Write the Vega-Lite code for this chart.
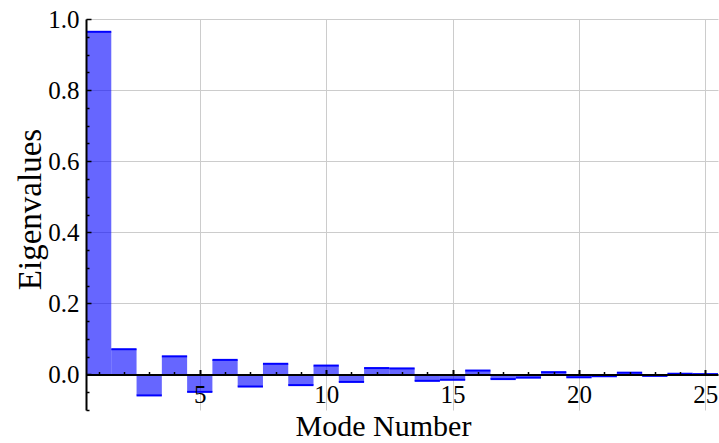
{
  "$schema": "https://vega.github.io/schema/vega-lite/v6.json",
  "width": 632,
  "height": 391,
  "autosize": "none",
  "padding": {"left": 86, "top": 19, "right": 1, "bottom": 33},
  "background": "white",
  "config": {"view": {"stroke": null}, "font": "Liberation Serif"},
  "data": {"values": [
    {"mode": 1, "eigenvalue": 0.964},
    {"mode": 2, "eigenvalue": 0.071},
    {"mode": 3, "eigenvalue": -0.059},
    {"mode": 4, "eigenvalue": 0.051},
    {"mode": 5, "eigenvalue": -0.049},
    {"mode": 6, "eigenvalue": 0.041},
    {"mode": 7, "eigenvalue": -0.034},
    {"mode": 8, "eigenvalue": 0.030},
    {"mode": 9, "eigenvalue": -0.030},
    {"mode": 10, "eigenvalue": 0.025},
    {"mode": 11, "eigenvalue": -0.021},
    {"mode": 12, "eigenvalue": 0.018},
    {"mode": 13, "eigenvalue": 0.017},
    {"mode": 14, "eigenvalue": -0.018},
    {"mode": 15, "eigenvalue": -0.015},
    {"mode": 16, "eigenvalue": 0.011},
    {"mode": 17, "eigenvalue": -0.013},
    {"mode": 18, "eigenvalue": -0.009},
    {"mode": 19, "eigenvalue": 0.0065},
    {"mode": 20, "eigenvalue": -0.008},
    {"mode": 21, "eigenvalue": -0.005},
    {"mode": 22, "eigenvalue": 0.005},
    {"mode": 23, "eigenvalue": -0.004},
    {"mode": 24, "eigenvalue": 0.002},
    {"mode": 25, "eigenvalue": 0.001}
  ]},
  "transform": [
    {"bin": {"step": 1, "anchor": 0.5, "extent": [0.5, 25.5]}, "field": "mode", "as": ["lo", "hi"]}
  ],
  "resolve": {"axis": {"x": "independent", "y": "independent"}},
  "layer": [
    {
      "mark": {"type": "rect", "fill": "#0000ff", "opacity": 0.6},
      "encoding": {
        "x": {
          "field": "lo", "type": "quantitative",
          "scale": {"domain": [0.5, 25.5], "nice": false, "zero": false},
          "axis": {
            "orient": "bottom",
            "values": [5, 10, 15, 20, 25],
            "grid": true, "gridColor": "#cccccc", "gridWidth": 1,
            "ticks": false, "labels": false, "domain": false, "title": null,
            "zindex": 0
          }
        },
        "x2": {"field": "hi"},
        "y": {
          "field": "eigenvalue", "type": "quantitative",
          "scale": {"domain": [-0.1, 1.0], "nice": false, "zero": false},
          "axis": {
            "orient": "left",
            "values": [0.2, 0.4, 0.6, 0.8, 1.0],
            "grid": true, "gridColor": "#cccccc", "gridWidth": 1,
            "ticks": false, "labels": false, "domain": false, "title": null,
            "zindex": 0
          }
        },
        "y2": {"datum": 0}
      }
    },
    {
      "mark": {"type": "rule", "stroke": "#0000ff", "strokeWidth": 2},
      "encoding": {
        "x": {
          "field": "lo", "type": "quantitative",
          "axis": {
            "orient": "bottom",
            "values": [1,2,3,4,5,6,7,8,9,10,11,12,13,14,15,16,17,18,19,20,21,22,23,24,25],
            "labelExpr": "datum.value % 5 === 0 ? datum.label : ''",
            "grid": false, "zindex": 1,
            "domainColor": "black", "domainWidth": 2,
            "tickColor": "black",
            "tickWidth": {"condition": {"test": "datum.value % 5 !== 0", "value": 1.5}, "value": 2},
            "tickSize": {"condition": {"test": "datum.value % 5 !== 0", "value": -3}, "value": -5},
            "offset": -35.5,
            "labelFontSize": 25, "labelColor": "black", "labelPadding": 13,
            "labelFont": "Liberation Serif",
            "title": "Mode Number", "titleFontSize": 30, "titleFontWeight": "normal",
            "titleFont": "Liberation Serif", "titleColor": "black",
            "titleX": 297, "titleY": 61, "titleBaseline": "alphabetic", "titleAnchor": null
          }
        },
        "x2": {"field": "hi"},
        "y": {
          "field": "eigenvalue", "type": "quantitative",
          "axis": {
            "orient": "left",
            "values": [-0.1, -0.05, 0, 0.05, 0.1, 0.15, 0.2, 0.25, 0.3, 0.35, 0.4, 0.45, 0.5, 0.55, 0.6, 0.65, 0.7, 0.75, 0.8, 0.85, 0.9, 0.95, 1.0],
            "labelExpr": "(abs(datum.value * 5 - round(datum.value * 5)) < 0.001 && datum.value >= 0) ? format(datum.value, '.1f') : ''",
            "grid": false, "zindex": 1,
            "domainColor": "black", "domainWidth": 2,
            "tickColor": "black", "tickWidth": 1.5,
            "tickSize": {"condition": {"test": "abs(datum.value * 5 - round(datum.value * 5)) > 0.001", "value": -3}, "value": -5},
            "labelFontSize": 25, "labelColor": "black", "labelPadding": 12,
            "labelFont": "Liberation Serif",
            "title": "Eigenvalues", "titleFontSize": 33, "titleFontWeight": "normal",
            "titleFont": "Liberation Serif", "titleColor": "black",
            "titleX": -56, "titleY": 190, "titleAngle": -90, "titleBaseline": "middle", "titleAnchor": null
          }
        }
      }
    }
  ]
}
